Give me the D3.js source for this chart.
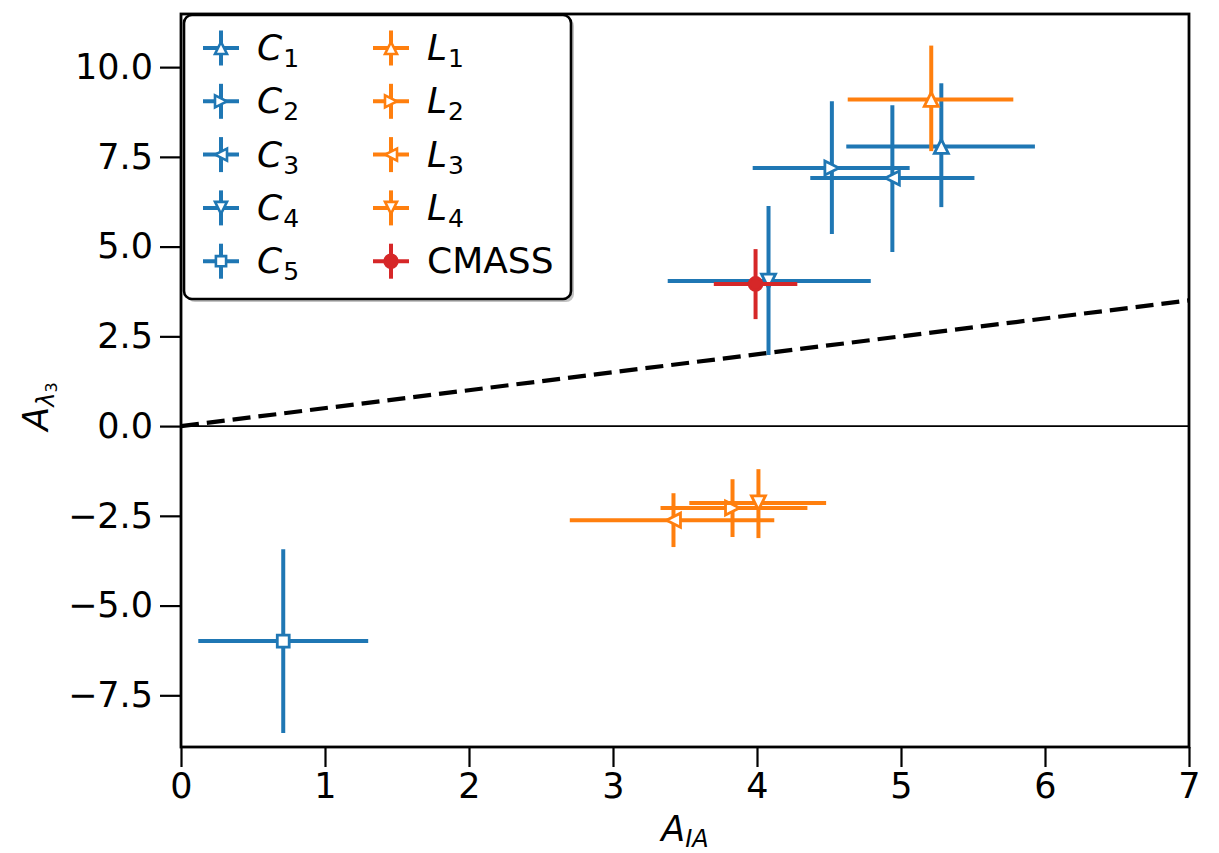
<!DOCTYPE html>
<html>
<head>
<meta charset="utf-8">
<script src="https://cdn.jsdelivr.net/npm/d3@7"></script>
<style>
  body { margin: 0; background: #fff; }
  svg { font-family: "DejaVu Sans", sans-serif; }
</style>
</head>
<body>
<svg id="chart" width="1219" height="853"></svg>
<script>
// series, in drawing order
const names   = ['C1', 'C2', 'C3', 'C4', 'C5', 'L1', 'L2', 'L3', 'L4', 'CMASS']
const xVals   = [5.28, 4.52, 4.94, 4.08, 0.71, 5.21, 3.83, 3.42, 4.01, 3.99]
const xLo     = [4.62, 3.97, 4.37, 3.38, 0.12, 4.63, 3.33, 2.70, 3.53, 3.70]
const xHi     = [5.93, 5.06, 5.51, 4.79, 1.30, 5.78, 4.35, 4.12, 4.48, 4.28]
const yVals   = [7.79, 7.19, 6.91, 4.04, -5.99, 9.10, -2.28, -2.62, -2.14, 3.96]
const yLo     = [6.10, 5.35, 4.85, 1.98, -8.55, 7.66, -3.09, -3.37, -3.12, 2.98]
const yHi     = [9.55, 9.05, 8.94, 6.13, -3.43, 10.60, -1.48, -1.87, -1.20, 4.93]
const markers = ['up', 'right', 'left', 'down', 'square', 'up', 'right', 'left', 'down', 'circle']
const colors  = ['#1f77b4', '#1f77b4', '#1f77b4', '#1f77b4', '#1f77b4',
                 '#ff7f0e', '#ff7f0e', '#ff7f0e', '#ff7f0e', '#d62728']

const xTicks = [0, 1, 2, 3, 4, 5, 6, 7]
const yTicks = [-7.5, -5.0, -2.5, 0.0, 2.5, 5.0, 7.5, 10.0]
const lineSlope = 0.5

let margin = {left: 181, right: 30, top: 14, bottom: 106}
let width = 1219, height = 853
let fs = 35

let svg = d3.select('#chart')

let x = d3.scaleLinear().domain([0, 7]).range([margin.left, width - margin.right])
let y = d3.scaleLinear().domain([-8.94, 11.48]).range([height - margin.bottom, margin.top])

let markerPath = (type, r) => {
	if(type === 'up') return `M0,${-r}L${-r},${r}L${r},${r}Z`
	if(type === 'down') return `M0,${r}L${-r},${-r}L${r},${-r}Z`
	if(type === 'right') return `M${r},0L${-r},${-r}L${-r},${r}Z`
	if(type === 'left') return `M${-r},0L${r},${-r}L${r},${r}Z`
	if(type === 'square') return `M${-r*0.85},${-r*0.85}h${r*1.7}v${r*1.7}h${-r*1.7}Z`
	return d3.symbol(d3.symbolCircle, 130)()
}

// zero line and slope line
svg.append('line')
	.attr('x1', x(0)).attr('x2', x(7))
	.attr('y1', y(0)).attr('y2', y(0))
	.attr('stroke', '#000').attr('stroke-width', 1.6)

svg.append('line')
	.attr('x1', x(0)).attr('x2', x(7))
	.attr('y1', y(0)).attr('y2', y(7 * lineSlope))
	.attr('stroke', '#000').attr('stroke-width', 4.2)
	.attr('stroke-dasharray', '18,8')

// error bars + markers
let plot = svg.append('g')

names.forEach((n, i) => {
	let g = plot.append('g').attr('class', 'series')
	g.append('line')
		.attr('x1', x(xLo[i])).attr('x2', x(xHi[i]))
		.attr('y1', y(yVals[i])).attr('y2', y(yVals[i]))
		.attr('stroke', colors[i]).attr('stroke-width', 4)
	g.append('line')
		.attr('x1', x(xVals[i])).attr('x2', x(xVals[i]))
		.attr('y1', y(yLo[i])).attr('y2', y(yHi[i]))
		.attr('stroke', colors[i]).attr('stroke-width', 4)
	g.append('path')
		.attr('d', markerPath(markers[i], 7))
		.attr('transform', `translate(${x(xVals[i])},${y(yVals[i])})`)
		.attr('fill', markers[i] === 'circle' ? colors[i] : '#fff')
		.attr('stroke', colors[i]).attr('stroke-width', 2.8)
		.attr('stroke-linejoin', 'miter')
})

// axes
let xAxis = svg.append('g')
	.attr('transform', `translate(0,${height - margin.bottom})`)
	.call(d3.axisBottom(x).tickValues(xTicks).tickFormat(d3.format('d')).tickSize(20).tickPadding(6))

let yAxis = svg.append('g')
	.attr('transform', `translate(${margin.left},0)`)
	.call(d3.axisLeft(y).tickValues(yTicks).tickFormat(d => d3.format('.1f')(d).replace('-', '\u2212')).tickSize(21).tickPadding(7))

;[xAxis, yAxis].forEach(a => {
	a.select('.domain').remove()
	a.selectAll('.tick line').attr('stroke', '#000').attr('stroke-width', 2.2)
	a.selectAll('.tick text').attr('fill', '#000').attr('font-size', fs).attr('font-family', 'DejaVu Sans')
})

// frame
svg.append('rect')
	.attr('x', x(0)).attr('y', margin.top)
	.attr('width', x(7) - x(0)).attr('height', height - margin.bottom - margin.top)
	.attr('fill', 'none').attr('stroke', '#000').attr('stroke-width', 2.8)

// axis labels
let xl = svg.append('text')
	.attr('x', (x(0) + x(7)) / 2).attr('y', 841)
	.attr('text-anchor', 'middle').attr('font-size', fs)
xl.append('tspan').attr('font-style', 'italic').text('A')
xl.append('tspan').attr('font-style', 'italic').attr('font-size', 24).attr('dy', 6).text('IA')

let yl = svg.append('text')
	.attr('transform', `translate(48,${(y(11.48) + y(-8.94)) / 2 + 26}) rotate(-90)`)
	.attr('text-anchor', 'middle').attr('font-size', fs)
yl.append('tspan').attr('font-style', 'italic').text('A')
yl.append('tspan').attr('font-style', 'italic').attr('font-size', 24).attr('dy', 6).text('λ')
yl.append('tspan').attr('font-size', 16).attr('dy', 3).text('3')

// legend
let leg = svg.append('g')
leg.append('rect')
	.attr('x', 187).attr('y', 18).attr('width', 387).attr('height', 284).attr('rx', 8)
	.attr('fill', '#888').attr('opacity', 0.5)
leg.append('rect')
	.attr('x', 184).attr('y', 15).attr('width', 387).attr('height', 284).attr('rx', 8)
	.attr('fill', '#fff').attr('stroke', '#000').attr('stroke-width', 2.6)

names.forEach((n, i) => {
	let col = i < 5 ? 0 : 1
	let row = i % 5
	let cx = col === 0 ? 221 : 391
	let cy = 48 + row * 53.3
	let h = leg.append('g')
	h.append('line').attr('x1', cx - 18).attr('x2', cx + 18).attr('y1', cy).attr('y2', cy)
		.attr('stroke', colors[i]).attr('stroke-width', 4)
	h.append('line').attr('x1', cx).attr('x2', cx).attr('y1', cy - 17.5).attr('y2', cy + 17.5)
		.attr('stroke', colors[i]).attr('stroke-width', 4)
	h.append('path').attr('d', markerPath(markers[i], 6))
		.attr('transform', `translate(${cx},${cy})`)
		.attr('fill', markers[i] === 'circle' ? colors[i] : '#fff')
		.attr('stroke', colors[i]).attr('stroke-width', 2.6)

	let t = leg.append('text').attr('x', cx + 36).attr('y', cy + 12).attr('font-size', 36).attr('fill', '#000')
	if(n === 'CMASS') {
		t.text('CMASS')
	} else {
		t.append('tspan').attr('font-style', 'italic').text(n[0])
		t.append('tspan').attr('font-size', 25).attr('dy', 7).attr('dx', 1).text(n[1])
	}
})
</script>
</body>
</html>
